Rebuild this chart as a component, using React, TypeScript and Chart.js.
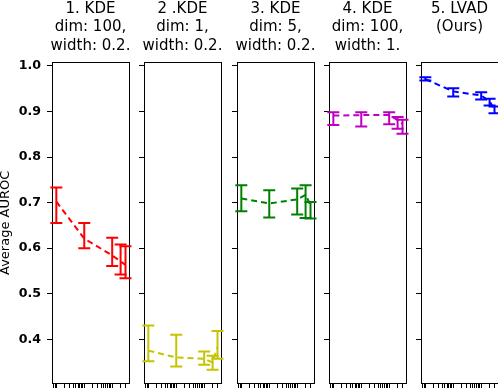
import React, { useEffect, useRef } from 'react';
import { Chart, registerables } from 'chart.js';
Chart.register(...registerables);

// ---- data ----
const xValues = [10, 100, 1000, 2000, 3000];
const yTicks = [0.4, 0.5, 0.6, 0.7, 0.8, 0.9, 1.0];

const titles = [
  ['1. KDE', 'dim: 100,', 'width: 0.2.'],
  ['2 .KDE', 'dim: 1,', 'width: 0.2.'],
  ['3. KDE', 'dim: 5,', 'width: 0.2.'],
  ['4. KDE', 'dim: 100,', 'width: 1.'],
  ['5. LVAD', '(Ours)', ''],
];
const colors = ['#ff0000', '#c4c400', '#008000', '#bf00bf', '#0000ff'];

const mean1 = [0.702, 0.621, 0.584, 0.571, 0.563];
const lower1 = [0.655, 0.600, 0.561, 0.542, 0.534];
const upper1 = [0.733, 0.655, 0.623, 0.608, 0.604];

const mean2 = [0.375, 0.360, 0.357, 0.349, 0.383];
const lower2 = [0.352, 0.340, 0.344, 0.333, 0.357];
const upper2 = [0.430, 0.410, 0.373, 0.364, 0.418];

const mean3 = [0.709, 0.698, 0.707, 0.717, 0.694];
const lower3 = [0.681, 0.667, 0.674, 0.666, 0.665];
const upper3 = [0.738, 0.727, 0.731, 0.738, 0.701];

const mean4 = [0.891, 0.892, 0.892, 0.881, 0.873];
const lower4 = [0.870, 0.867, 0.872, 0.862, 0.851];
const upper4 = [0.898, 0.898, 0.898, 0.888, 0.882];

const mean5 = [0.971, 0.944, 0.935, 0.922, 0.905];
const lower5 = [0.968, 0.933, 0.926, 0.913, 0.896];
const upper5 = [0.975, 0.951, 0.942, 0.928, 0.911];

const means = [mean1, mean2, mean3, mean4, mean5];
const lowers = [lower1, lower2, lower3, lower4, lower5];
const uppers = [upper1, upper2, upper3, upper4, upper5];

const yMin = 0.304;
const yMax = 1.007;
const xMin = 7;
const xMax = 4000;

// ---- layout ----
const AXIS_W = 52;
const PLOT_W = 77;
const CANVAS_W = AXIS_W * 2 + PLOT_W;
const CANVAS_H = 388;
const canvasLefts = [0, 92, 185, 277, 369];

function isIntMantissa(v: number) {
  const p = Math.pow(10, Math.floor(Math.log10(v) + 1e-9));
  const m = v / p;
  return Math.abs(m - Math.round(m)) < 1e-6;
}

function makeErrorBars(lower: number[], upper: number[], color: string) {
  return {
    id: 'errorBars',
    afterDatasetsDraw(chart: any) {
      const xs = chart.scales.x;
      const ys = chart.scales.y;
      const ctx = chart.ctx;
      ctx.save();
      ctx.strokeStyle = color;
      ctx.lineWidth = 2;
      ctx.lineCap = 'butt';
      xValues.forEach((xv, i) => {
        const x = xs.getPixelForValue(xv);
        const y1 = ys.getPixelForValue(lower[i]);
        const y2 = ys.getPixelForValue(upper[i]);
        ctx.beginPath();
        ctx.moveTo(x, y1);
        ctx.lineTo(x, y2);
        ctx.moveTo(x - 6, y1);
        ctx.lineTo(x + 6, y1);
        ctx.moveTo(x - 6, y2);
        ctx.lineTo(x + 6, y2);
        ctx.stroke();
      });
      ctx.restore();
    },
  };
}

function Panel({ idx }: { idx: number }) {
  const ref = useRef<HTMLCanvasElement | null>(null);
  useEffect(() => {
    if (!ref.current) return;
    const color = colors[idx];
    const first = idx === 0;
    const chart = new Chart(ref.current, {
      type: 'line',
      data: {
        datasets: [
          {
            data: xValues.map((x, i) => ({ x, y: means[idx][i] })),
            borderColor: color,
            borderWidth: 2,
            borderDash: [6, 4],
            pointRadius: 0,
            fill: false,
            tension: 0,
          },
        ],
      },
      options: {
        responsive: false,
        maintainAspectRatio: false,
        animation: false,
        layout: { padding: 0 },
        plugins: {
          legend: { display: false },
          tooltip: { enabled: false },
          title: {
            display: true,
            text: titles[idx],
            color: '#000',
            font: { family: 'DejaVu Sans', size: 15, weight: 'normal', lineHeight: 1.22 },
            padding: { top: 0, bottom: 7.8 },
          },
        },
        scales: {
          x: {
            type: 'logarithmic',
            position: 'bottom',
            min: xMin,
            max: xMax,
            ticks: { display: false },
            grid: { drawOnChartArea: false, drawTicks: true, tickLength: 5, tickColor: '#000', tickWidth: 1 },
            border: { display: true, color: '#000', width: 1 },
            afterBuildTicks: (s: any) => {
              s.ticks = s.ticks.filter((t: any) => t.value > s.min && t.value < s.max && isIntMantissa(t.value));
            },
          },
          x2: {
            type: 'linear',
            position: 'top',
            ticks: { display: false },
            grid: { drawOnChartArea: false, drawTicks: false },
            border: { display: true, color: '#000', width: 1 },
          },
          y: {
            type: 'linear',
            position: 'left',
            min: yMin,
            max: yMax,
            afterBuildTicks: (s: any) => {
              s.ticks = yTicks.map((v) => ({ value: v }));
            },
            afterFit: (s: any) => {
              s.width = AXIS_W;
              s.paddingTop = 0;
              s.paddingBottom = 0;
            },
            ticks: {
              display: first,
              color: '#000',
              padding: 6,
              font: { family: 'DejaVu Sans', size: 12.6, weight: 'bold' },
              callback: (v: any) => Number(v).toFixed(1),
            },
            grid: { drawOnChartArea: false, drawTicks: true, tickLength: 5, tickColor: '#000', tickWidth: 1 },
            border: { display: true, color: '#000', width: 1 },
            title: {
              display: first,
              text: 'Average AUROC',
              color: '#000',
              font: { family: 'DejaVu Sans', size: 13, weight: 'normal', lineHeight: 0.8 },
              padding: 0,
            },
          },
          y2: {
            type: 'linear',
            position: 'right',
            ticks: { display: false },
            grid: { drawOnChartArea: false, drawTicks: false },
            border: { display: true, color: '#000', width: 1 },
            afterFit: (s: any) => {
              s.width = AXIS_W;
            },
          },
        },
      } as any,
      plugins: [makeErrorBars(lowers[idx], uppers[idx], color)],
    });
    return () => chart.destroy();
  }, [idx]);
  return (
    <canvas
      ref={ref}
      width={CANVAS_W}
      height={CANVAS_H}
      style={{ position: 'absolute', left: canvasLefts[idx], top: 0, width: CANVAS_W, height: CANVAS_H, display: 'block' }}
    />
  );
}

export default function App() {
  return (
    <div
      style={{
        position: 'fixed',
        left: 0,
        top: 0,
        width: 498,
        height: 388,
        overflow: 'hidden',
        background: '#fff',
      }}
    >
      {[0, 1, 2, 3, 4].map((i) => (
        <Panel key={i} idx={i} />
      ))}
    </div>
  );
}
